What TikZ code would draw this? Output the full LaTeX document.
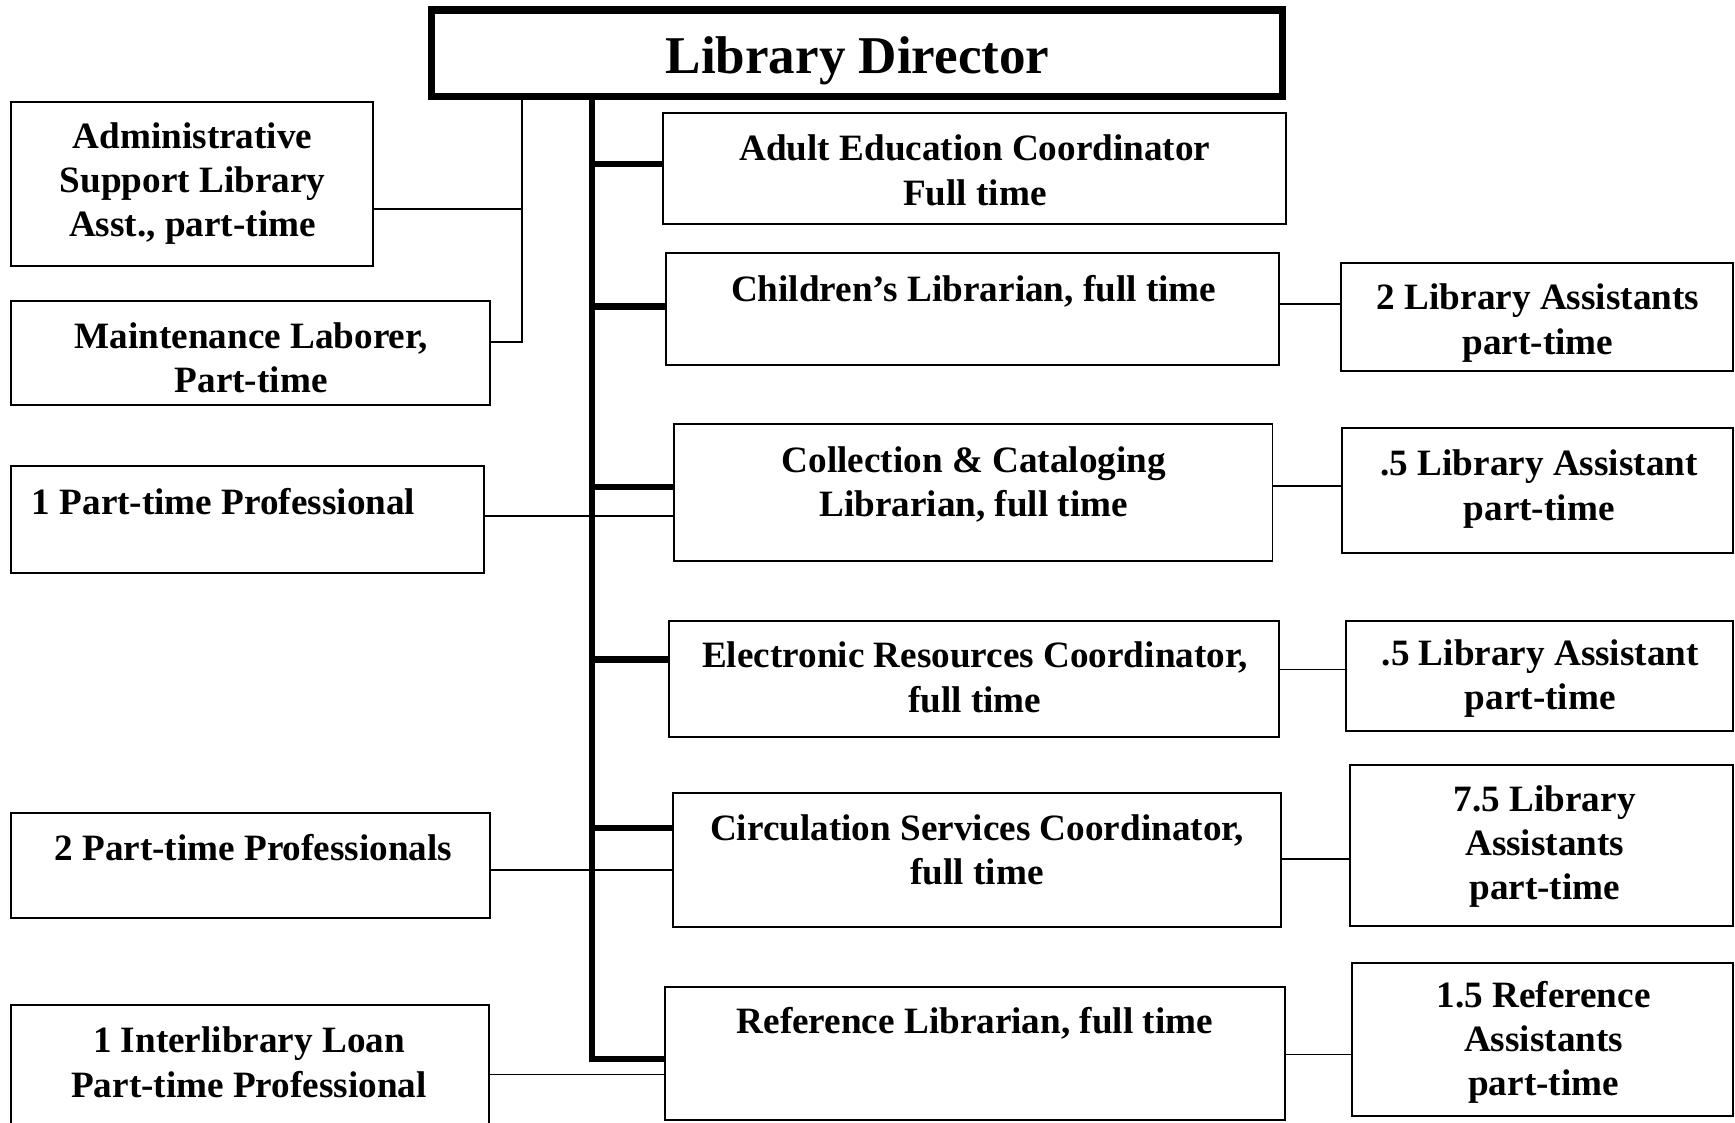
\documentclass[tikz,border=0pt]{standalone}
\usepackage{fontspec}
\setmainfont{Liberation Serif}
\usetikzlibrary{fit}

\begin{document}
\begin{tikzpicture}[x=0.5pt, y=-0.5pt,
  box/.style={draw, line width=0.9pt, inner sep=0pt, rectangle},
  headbox/.style={draw, line width=3.3pt, inner sep=0pt, rectangle},
  txt/.style={align=center, inner sep=0pt, font=\bfseries\fontsize{16.8}{20}\selectfont},
  headtxt/.style={inner sep=0pt, font=\bfseries\fontsize{24}{28}\selectfont},
  thinline/.style={line width=0.85pt},
  spine/.style={line width=2.8pt, line join=miter}]

\useasboundingbox (0,0) rectangle (1568,1014);
\clip (0,0) rectangle (1568,1014);

% ---- boxes ----
\node[headbox, fit={(390,9) (1159,87)}] (director) {};
\node[headtxt] at (775,55) {Library Director};

% left column
\node[box, fit={(10,92) (337,240)}] (admin) {};
\node[txt] at (174,166) {Administrative\\Support Library\\Asst., part-time};
\node[box, fit={(10,272) (443,366)}] (maint) {};
\node[txt] at (227,323) {Maintenance Laborer,\\Part-time};
\node[box, fit={(10,421) (437,518)}] (ptpone) {};
\node[txt] at (202,453) {1 Part-time Professional};
\node[box, fit={(10,735) (443,830)}] (ptptwo) {};
\node[txt] at (229,766) {2 Part-time Professionals};
\node[box, fit={(10,908) (442,1040)}] (ill) {};
\node[txt] at (225,960) {1 Interlibrary Loan\\Part-time Professional};

% middle column
\node[box, fit={(599,102) (1162,202)}] (adult) {};
\node[txt] at (881,154) {Adult Education Coordinator\\Full time};
\node[box, fit={(602,229) (1156,330)}] (children) {};
\node[txt] at (880,263) {Children’s Librarian, full time};
\node[box, fit={(609,383) (1150,507)}] (collection) {};
\node[txt] at (880,438) {Collection \& Cataloging\\Librarian, full time};
\node[box, fit={(605,561) (1156,666)}] (electronic) {};
\node[txt] at (881,612) {Electronic Resources Coordinator,\\full time};
\node[box, fit={(608,717) (1158,838)}] (circulation) {};
\node[txt] at (883,768) {Circulation Services Coordinator,\\full time};
\node[box, fit={(601,892) (1161,1012)}] (reference) {};
\node[txt] at (881,925) {Reference Librarian, full time};

% right column
\node[box, fit={(1212,238) (1566,335)}] (asstA) {};
\node[txt] at (1390,292) {2 Library Assistants\\part-time};
\node[box, fit={(1213,387) (1566,500)}] (asstB) {};
\node[txt] at (1391,442) {.5 Library Assistant\\part-time};
\node[box, fit={(1216,561) (1566,661)}] (asstC) {};
\node[txt] at (1392,613) {.5 Library Assistant\\part-time};
\node[box, fit={(1220,691) (1566,837)}] (asstD) {};
\node[txt] at (1396,765) {7.5 Library\\Assistants\\part-time};
\node[box, fit={(1222,870) (1566,1009)}] (asstE) {};
\node[txt] at (1395,942) {1.5 Reference\\Assistants\\part-time};

% ---- connectors ----
\coordinate (lt) at (472,0);
\coordinate (sp) at (535,0);

% thin line to the two support posts
\draw[thinline] (director.south -| lt) -- (lt |- 0,309) -- (maint.east |- 0,309);
\draw[thinline] (admin.east |- 0,189) -- (lt |- 0,189);

% thick spine and its branches
\draw[spine] (director.south -| sp) -- (sp |- 0,957) -- (reference.west |- 0,957);
\draw[spine] (sp |- 0,148) -- (adult.west |- 0,148);
\draw[spine] (sp |- 0,277) -- (children.west |- 0,277);
\draw[spine] (sp |- 0,440) -- (collection.west |- 0,440);
\draw[spine] (sp |- 0,596) -- (electronic.west |- 0,596);
\draw[spine] (sp |- 0,748) -- (circulation.west |- 0,748);

% part-time professionals across the spine
\draw[thinline] (ptpone.east |- 0,466) -- (collection.west |- 0,466);
\draw[thinline] (ptptwo.east |- 0,786) -- (circulation.west |- 0,786);
\draw[thinline] (ill.east |- 0,971) -- (reference.west |- 0,971);

% assistants on the right
\draw[thinline] (children.east |- 0,275) -- (asstA.west |- 0,275);
\draw[thinline] (collection.east |- 0,439) -- (asstB.west |- 0,439);
\draw[thinline] (electronic.east |- 0,605) -- (asstC.west |- 0,605);
\draw[thinline] (circulation.east |- 0,776) -- (asstD.west |- 0,776);
\draw[thinline] (reference.east |- 0,953) -- (asstE.west |- 0,953);
\end{tikzpicture}
\end{document}
